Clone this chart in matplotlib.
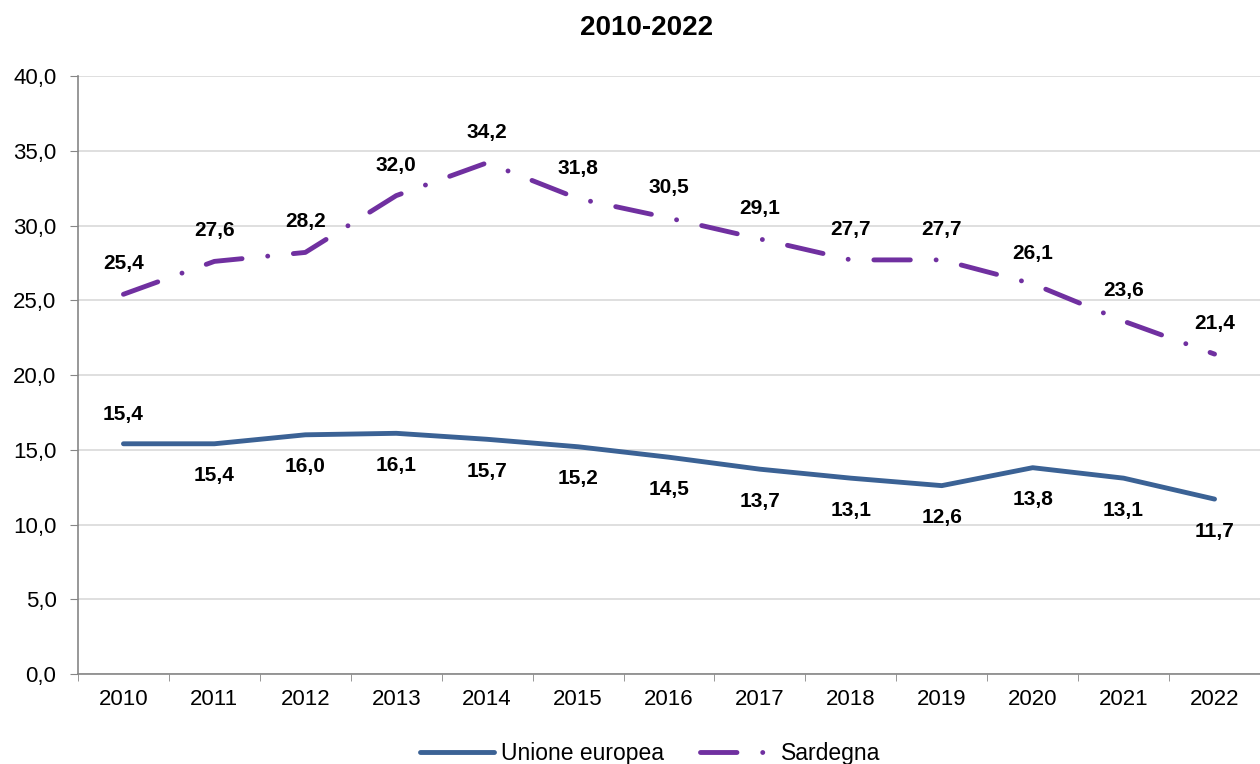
import numpy as np
import matplotlib.pyplot as plt
from matplotlib.ticker import FuncFormatter

years = ["2010", "2011", "2012", "2013", "2014", "2015", "2016",
         "2017", "2018", "2019", "2020", "2021", "2022"]
ue = [15.4, 15.4, 16.0, 16.1, 15.7, 15.2, 14.5, 13.7, 13.1, 12.6, 13.8, 13.1, 11.7]
sardegna = [25.4, 27.6, 28.2, 32.0, 34.2, 31.8, 30.5, 29.1, 27.7, 27.7, 26.1, 23.6, 21.4]

plt.rcParams['font.family'] = ['Liberation Sans', 'DejaVu Sans']

fig = plt.figure(figsize=(12.6, 7.64), dpi=100)
ax = fig.add_axes([0.0619, 0.1178, 0.9381, 0.7827])

x = np.arange(len(years))
blue = "#3B6295"
purple = "#7030A0"

ax.plot(x, ue, color=blue, lw=3.5, solid_capstyle="round", solid_joinstyle="round",
        label="Unione europea", zorder=3)
ax.plot(x, sardegna, color=purple, lw=3.5, dashes=(7.5, 5.3, 0.01, 5.3),
        dash_capstyle="round", dash_joinstyle="round", label="Sardegna", zorder=3)

def fmt(v):
    return f"{v:.1f}".replace(".", ",")

for i, v in enumerate(sardegna):
    ax.annotate(fmt(v), (i, v), xytext=(0, 22), textcoords="offset points",
                ha="center", va="center", fontsize=15, fontweight="bold")
for i, v in enumerate(ue):
    dy = 21 if i == 0 else -23
    ax.annotate(fmt(v), (i, v), xytext=(0, dy), textcoords="offset points",
                ha="center", va="center", fontsize=15, fontweight="bold")

ax.set_ylim(0, 40)
ax.set_yticks(np.arange(0, 40.1, 5))
ax.yaxis.set_major_formatter(FuncFormatter(lambda v, p: fmt(v)))
ax.set_xlim(-0.5, len(years) - 0.5)
ax.set_xticks(x)
ax.set_xticklabels(years)
ax.set_xticks(np.arange(-0.5, len(years), 1), minor=True)
ax.tick_params(axis="x", which="major", length=0, pad=11, labelsize=16)
ax.tick_params(axis="x", which="minor", length=5, color="#868686", direction="out")
ax.tick_params(axis="y", length=5.5, color="#868686", labelsize=16, pad=10)

ax.grid(axis="y", color="#D9D9D9", lw=1.2)
ax.set_axisbelow(True)
for s in ["top", "right"]:
    ax.spines[s].set_visible(False)
for s in ["left", "bottom"]:
    ax.spines[s].set_color("#868686")
    ax.spines[s].set_linewidth(1.2)

fig.text(0.5135, 1 - 28 / 764, "2010-2022", fontsize=20, fontweight="bold",
         ha="center", va="center")

fig.legend(loc="center", bbox_to_anchor=(0.516, 0.014), ncol=2, frameon=False,
           fontsize=16.5, handlelength=3.2, handletextpad=0.3, columnspacing=1.6,
           borderpad=0, borderaxespad=0)

fig.savefig("out.png", dpi=100)
plt.close()
